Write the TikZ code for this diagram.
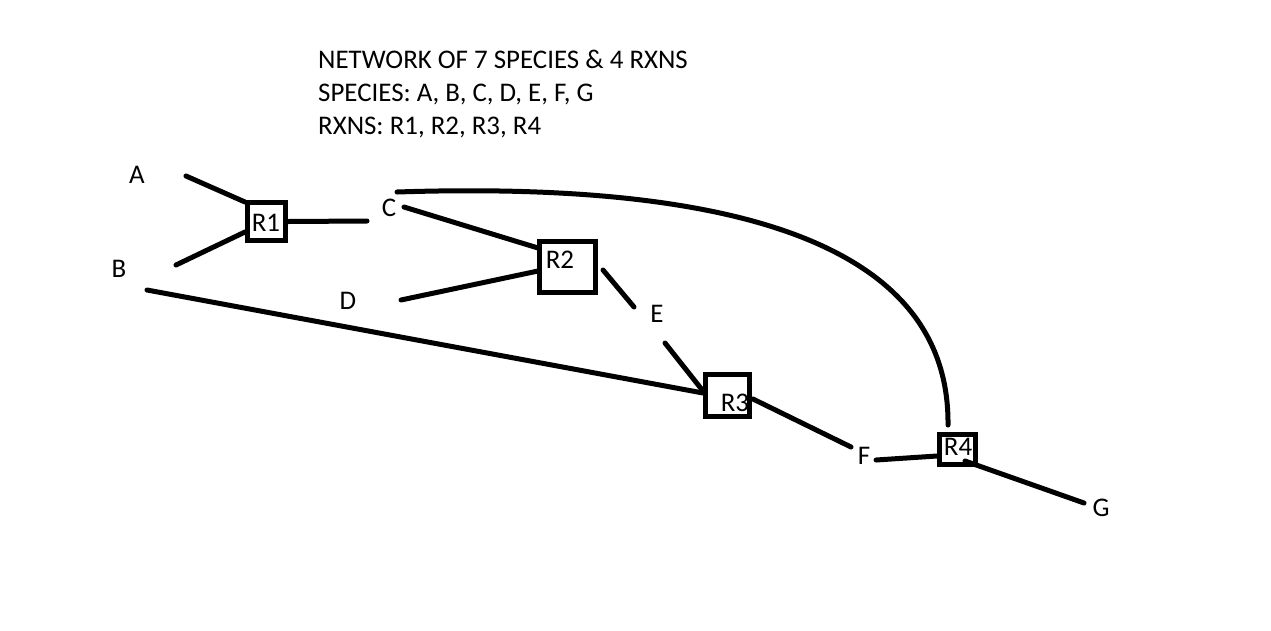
\documentclass[tikz,border=0pt]{standalone}
\usepackage{fontspec}
\setmainfont{Carlito}
\begin{document}
\begin{tikzpicture}[x=1pt,y=-1pt,
  every node/.style={font=\fontsize{26.9}{32}\selectfont, inner sep=0pt},
  lbl/.style={anchor=base},
  rxn/.style={draw, line width=5pt, minimum width=#1},
  conn/.style={line width=5pt, line cap=round}]
\useasboundingbox[fill=white] (0,0) rectangle (1271,630);
% title
\node[anchor=base west] (t1) at (318,68) {NETWORK OF 7 SPECIES \& 4 RXNS};
\node[anchor=base west] (t2) at (318,101) {SPECIES: A, B, C, D, E, F, G};
\node[anchor=base west] (t3) at (318,134) {RXNS: R1, R2, R3, R4};
% reaction boxes
\node[rxn=38pt, minimum height=38pt] (r1) at (266.5,221.5) {};
\node[rxn=56pt, minimum height=51pt] (r2) at (567.5,267) {};
\node[rxn=44pt, minimum height=42pt] (r3) at (727.5,395.5) {};
\node[rxn=36pt, minimum height=30pt] (r4) at (957.5,449.5) {};
% reaction labels
\node[lbl] (r1l) at (266,231) {R1};
\node[lbl] (r2l) at (560,268) {R2};
\node[lbl] (r3l) at (735,411) {R3};
\node[lbl] (r4l) at (958,455) {R4};
% species labels
\node[lbl] (a) at (137,183) {A};
\node[lbl] (b) at (119,277) {B};
\node[lbl] (c) at (389,216) {C};
\node[lbl] (d) at (348,309) {D};
\node[lbl] (e) at (657,322) {E};
\node[lbl] (f) at (864,464) {F};
\node[lbl] (g) at (1101,516) {G};
% connector end points
\coordinate (aE) at (186,176);   \coordinate (r1A) at (245,202);
\coordinate (bE) at (176,265);   \coordinate (r1B) at (245,232);
\coordinate (cW) at (367,221);
\coordinate (cE) at (404,207);   \coordinate (r2C) at (538,248);
\coordinate (dE) at (401,300);   \coordinate (r2D) at (538,271);
\coordinate (r2E) at (603,270);  \coordinate (eN) at (634,307);
\coordinate (eS) at (665,343);   \coordinate (r3E) at (703,391);
\coordinate (bS) at (147,290);   \coordinate (r3B) at (703,393);
\coordinate (r3F) at (753,399);  \coordinate (fN) at (851,447);
\coordinate (fE) at (876,460);   \coordinate (r4F) at (937,456);
\coordinate (r4G) at (965,461);  \coordinate (gW) at (1084,503);
\coordinate (cTop) at (397,192); \coordinate (r4Top) at (948,425);
% connectors
\draw[conn] (aE) -- (r1A);
\draw[conn] (bE) -- (r1B);
\draw[conn] (r1.east) -- (cW);
\draw[conn] (cE) -- (r2C);
\draw[conn] (dE) -- (r2D);
\draw[conn] (r2E) -- (eN);
\draw[conn] (eS) -- (r3E);
\draw[conn] (bS) -- (r3B);
\draw[conn] (r3F) -- (fN);
\draw[conn] (fE) -- (r4F);
\draw[conn] (r4G) -- (gW);
\draw[conn] (cTop) .. controls (700,182) and (950,230) .. (r4Top);
\end{tikzpicture}
\end{document}
